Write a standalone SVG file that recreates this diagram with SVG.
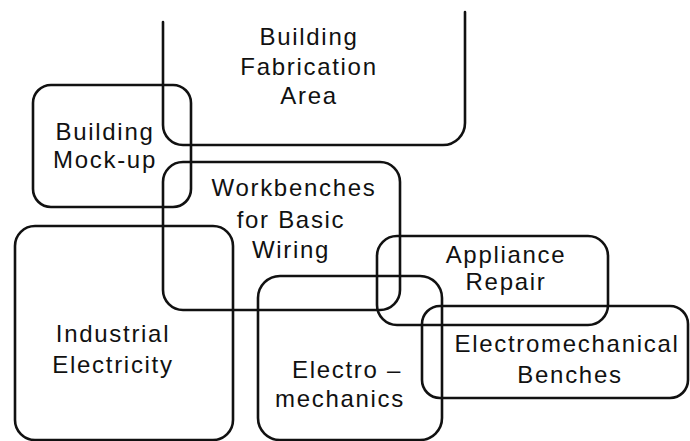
<svg xmlns="http://www.w3.org/2000/svg" width="690" height="441" viewBox="0 0 690 441">
<style>
.b{fill:none;stroke:#111;stroke-width:2.6;stroke-linejoin:round;stroke-linecap:round}
text{font-family:"Liberation Sans",Arial,sans-serif;font-size:24px;fill:#111;text-anchor:middle;letter-spacing:1.7px}
</style>
<rect width="690" height="441" fill="#fff"/>
<g id="fabrication">
<path class="b" d="M163,22 V125 A20,20 0 0 0 183,145 H443 A22,22 0 0 0 465,123 V12"/>
<text x="309" y="45">Building</text>
<text x="309" y="75">Fabrication</text>
<text x="309" y="104">Area</text>
</g>
<g id="mockup">
<rect class="b" x="33" y="85" width="158" height="122" rx="18"/>
<text x="105" y="140">Building</text>
<text x="105" y="168">Mock-up</text>
</g>
<g id="workbenches">
<rect class="b" x="163" y="162" width="237" height="148" rx="20"/>
<text x="294" y="196">Workbenches</text>
<text x="291" y="228">for Basic</text>
<text x="291" y="258">Wiring</text>
</g>
<g id="industrial">
<rect class="b" x="15" y="226" width="218" height="214" rx="20"/>
<text x="113" y="342">Industrial</text>
<text x="113" y="373">Electricity</text>
</g>
<g id="electromechanics">
<rect class="b" x="258" y="276" width="184" height="164" rx="22"/>
<text x="347" y="378">Electro –</text>
<text x="340" y="407">mechanics</text>
</g>
<g id="appliance">
<rect class="b" x="377" y="236" width="231" height="89" rx="20"/>
<text x="506" y="263">Appliance</text>
<text x="506" y="290">Repair</text>
</g>
<g id="benches">
<rect class="b" x="422" y="306" width="266" height="92" rx="18"/>
<text x="567" y="352">Electromechanical</text>
<text x="570" y="383">Benches</text>
</g>
<g id="connectors"></g>
</svg>
